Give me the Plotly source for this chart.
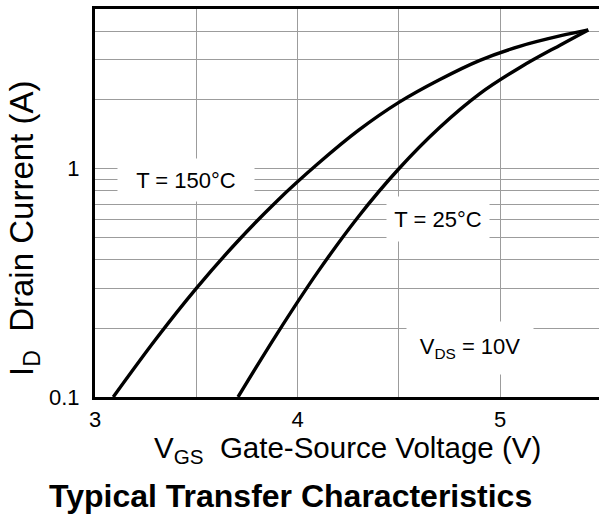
import math
import plotly.graph_objects as go

# Transfer characteristics: drain current vs gate-source voltage, V_DS = 10 V
vgs_25c = [3.706, 3.9, 4.1, 4.3, 4.5, 4.7, 4.9, 5.1, 5.3, 5.435]
id_25c = [0.100, 0.190, 0.353, 0.616, 0.999, 1.51, 2.13, 2.78, 3.49, 4.05]

vgs_150c = [3.09, 3.3, 3.5, 3.7, 3.9, 4.1, 4.3, 4.5, 4.7, 4.9, 5.1, 5.3, 5.435]
id_150c = [0.100, 0.179, 0.299, 0.476, 0.724, 1.05, 1.47, 1.95, 2.45, 2.98, 3.44, 3.82, 4.05]

x_ticks = [3, 3.5, 4, 4.5, 5]
x_tick_text = ["3", "", "4", "", "5"]
y_ticks = [0.1, 0.2, 0.3, 0.4, 0.5, 0.6, 0.7, 0.8, 0.9, 1, 2, 3, 4]
y_tick_text = ["0.1", "", "", "", "", "", "", "", "", "1", "", "", ""]

FONT = "Liberation Sans, Arial, sans-serif"
GRID = "#9c9c9c"

fig = go.Figure()
for vx, iy, name in [(vgs_150c, id_150c, "150°C"), (vgs_25c, id_25c, "25°C")]:
    fig.add_trace(go.Scatter(
        x=vx, y=iy, mode="lines", name=name,
        line=dict(color="black", width=3.4, shape="spline", smoothing=1.0),
        showlegend=False, hoverinfo="skip",
    ))

label_font = dict(family=FONT, size=22, color="black")
fig.add_annotation(x=3.448, y=-0.048, xref="x", yref="y", text="T = 150°C",
                   showarrow=False, font=label_font, bgcolor="white",
                   width=134, height=40)
fig.add_annotation(x=4.695, y=-0.219, xref="x", yref="y", text="T = 25°C",
                   showarrow=False, font=label_font, bgcolor="white",
                   width=100, height=42)
fig.add_annotation(x=4.852, y=-0.785, xref="x", yref="y",
                   text="V<sub>DS</sub> = 10V",
                   showarrow=False, font=label_font, bgcolor="white",
                   width=124, height=50)

# axis titles and chart caption
fig.add_annotation(x=0.5, y=0, xref="paper", yref="paper", yanchor="middle",
                   yshift=-52, showarrow=False,
                   text="V<sub>GS</sub>\u00a0\u00a0Gate-Source Voltage (V)",
                   font=dict(family=FONT, size=29.5, color="black"))
fig.add_annotation(x=0, y=0.5, xref="paper", yref="paper", xanchor="center",
                   yanchor="middle", xshift=-71, yshift=-26, showarrow=False,
                   textangle=-90,
                   text="I<sub>D</sub>\u00a0\u00a0Drain Current (A)",
                   font=dict(family=FONT, size=33, color="black"))
fig.add_annotation(x=0.5, y=0, xref="paper", yref="paper", yanchor="middle",
                   yshift=-99, xshift=-57, showarrow=False,
                   text="<b>Typical Transfer Characteristics</b>",
                   font=dict(family=FONT, size=32, color="black"))

fig.update_xaxes(
    range=[3, 5.488], tickvals=x_ticks, ticktext=x_tick_text,
    showgrid=True, gridcolor=GRID, gridwidth=1,
    showline=True, linecolor="black", linewidth=3, mirror=True,
    ticks="", ticklabelstandoff=1, zeroline=False,
    tickfont=dict(family=FONT, size=22, color="black"),
)
fig.update_yaxes(
    type="log", range=[-1, math.log10(5)], tickvals=y_ticks, ticktext=y_tick_text,
    showgrid=True, gridcolor=GRID, gridwidth=1,
    showline=True, linecolor="black", linewidth=3, mirror=False,
    ticks="", ticklabelstandoff=8, zeroline=False,
    tickfont=dict(family=FONT, size=22, color="black"),
)

fig.update_layout(
    width=599, height=522,
    margin=dict(l=95, r=0, t=9, b=125),
    paper_bgcolor="white", plot_bgcolor="white",
)

fig.write_html("out.html")
